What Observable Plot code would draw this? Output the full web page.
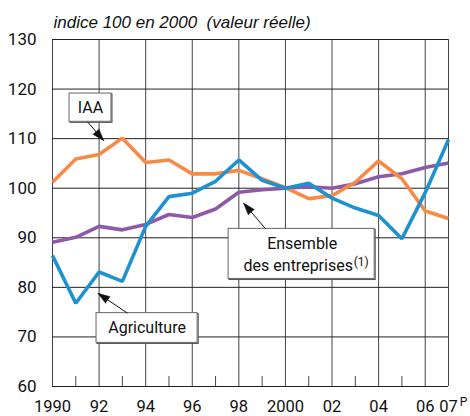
<!DOCTYPE html>
<html>
<head>
<meta charset="utf-8">
<script src="https://cdn.jsdelivr.net/npm/d3@7"></script>
<script src="https://cdn.jsdelivr.net/npm/@observablehq/plot@0.6"></script>
<style>
  body { margin: 0; background: #fff; font-family: Roboto, "Liberation Sans", sans-serif; }
</style>
</head>
<body>
<div id="chart"></div>
<script>
const years = [1990,1991,1992,1993,1994,1995,1996,1997,1998,1999,2000,2001,2002,2003,2004,2005,2006,2007];
const iaa = [101.2,105.9,106.8,110.1,105.2,105.7,102.9,102.9,103.6,101.9,100.1,97.9,98.5,101.2,105.5,101.9,95.4,93.9];
const ensemble = [89.1,90.1,92.3,91.6,92.7,94.7,94.1,95.8,99.2,99.7,100,100.3,100,100.9,102.3,102.9,104.2,105.1];
const agriculture = [86.4,76.8,83.1,81.2,92.3,98.3,99.0,101.4,105.7,101.6,100,101.0,98.0,96.0,94.5,89.8,99.1,109.8];

const yTicks = [60,70,80,90,100,110,120,130];
const majorYears = [1990,1992,1994,1996,1998,2000,2002,2004,2006,2007];
const minorYears = [1991,1993,1995,1997,1999,2001,2003,2005];
const xTickLabels = ["1990","92","94","96","98","2000","02","04","06","07"];
const titleText = "indice 100 en 2000  (valeur réelle)";

const seriesNames = ["Ensemble des entreprises", "IAA", "Agriculture"];
const seriesValues = [ensemble, iaa, agriculture];
const seriesColors = ["#8e5aa8", "#f68a47", "#1e91d0"];

const table = seriesNames.flatMap((name, i) => years.map((year, j) => ({series: name, year, value: seriesValues[i][j]})));
const xTicks = majorYears.map((year, i) => ({year, label: xTickLabels[i]}));

const W = 470, H = 416, mT = 39, mB = 30, mL = 52, mR = 22;
const pxPerYear = (W - mL - mR) / 17;
const pxPerUnit = (H - mT - mB) / 70;

// annotations (data units)
const boxes = [
  {x1: 1990.73, x2: 1992.53, y1: 113.4, y2: 119.1},
  {x1: 1997.56, x2: 2003.83, y1: 81.7, y2: 91.8},
  {x1: 1991.89, x2: 1996.23, y1: 68.8, y2: 74.8}
];
const arrows = [
  {x1: 1991.5, y1: 113.4, x2: 1992.2, y2: 109.6},
  {x1: 1999.15, y1: 91.8, x2: 1998.2, y2: 97.0},
  {x1: 1993.22, y1: 74.8, x2: 1991.95, y2: 78.8}
].map(a => ({...a, angle: Math.atan2((a.x2 - a.x1) * pxPerYear, (a.y2 - a.y1) * pxPerUnit) * 180 / Math.PI}));
const labels = [
  {x: 1991.63, y: 116.3, text: "IAA"},
  {x: 2000.72, y: 88.8, text: "Ensemble"},
  {x: 2000.55, y: 84.3, text: "des entreprises"},
  {x: 1994.06, y: 71.8, text: "Agriculture"}
];

const chart = Plot.plot({
  width: W,
  height: H,
  marginTop: mT,
  marginBottom: mB,
  marginLeft: mL,
  marginRight: mR,
  style: {fontFamily: "Roboto, 'Liberation Sans', sans-serif", background: "#fff"},
  x: {domain: [1990, 2007], axis: null},
  y: {domain: [60, 130], axis: null},
  color: {domain: seriesNames, range: seriesColors},
  marks: [
    Plot.ruleX(majorYears, {stroke: "#444", strokeWidth: 1}),
    Plot.ruleX(minorYears, {y1: 60, y2: 62, stroke: "#444", strokeWidth: 1}),
    Plot.ruleY(yTicks, {stroke: "#222", strokeWidth: 1}),
    Plot.line(table, {x: "year", y: "value", z: "series", stroke: "series", strokeWidth: 3.6, strokeLinejoin: "miter", strokeLinecap: "butt"}),
    Plot.rect(boxes, {x1: "x1", x2: "x2", y1: "y1", y2: "y2", fill: "#fff", stroke: "#555", strokeWidth: 1.2, dx: 1, dy: 1}),
    Plot.rect(boxes, {x1: "x1", x2: "x2", y1: "y1", y2: "y2", fill: "#fff", stroke: "#666", strokeWidth: 1}),
    Plot.link(arrows, {x1: "x1", y1: "y1", x2: "x2", y2: "y2", stroke: "#111", strokeWidth: 1}),
    Plot.vector(arrows, {x: "x2", y: "y2", rotate: "angle", length: 12, r: 4, shape: "spike", anchor: "end", fill: "#111", stroke: "#111", strokeWidth: 0.5}),
    Plot.text(labels, {x: "x", y: "y", text: "text", fontSize: 16, fill: "#111", lineAnchor: "middle"}),
    Plot.text(["(1)"], {x: 2003.25, y: 85.0, text: d => d, fontSize: 12, fill: "#111", lineAnchor: "middle"}),
    Plot.text(yTicks, {x: 1990, y: d => d, text: d => String(d), dx: -16, textAnchor: "end", lineAnchor: "middle", fontSize: 17, fill: "#111"}),
    Plot.text(xTicks, {x: "year", y: 60, text: "label", dy: 20, lineAnchor: "middle", fontSize: 16.5, fill: "#111"}),
    Plot.text(["P"], {x: 2007, y: 60, text: d => d, dx: 15, dy: 16, lineAnchor: "middle", fontSize: 12, fill: "#111"}),
    Plot.text([titleText], {frameAnchor: "top-left", text: d => d, dx: 1, dy: -12, lineAnchor: "bottom", textAnchor: "start", fontSize: 17, fontStyle: "italic", fontFamily: "'Liberation Sans', Arial, sans-serif", fill: "#111"})
  ]
});
document.getElementById("chart").appendChild(chart);
</script>
</body>
</html>
